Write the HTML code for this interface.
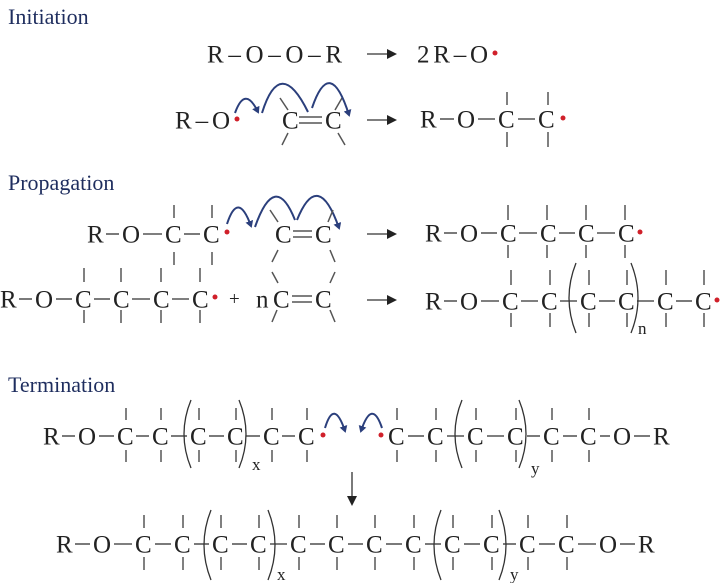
<!DOCTYPE html>
<html><head><meta charset="utf-8"><style>
html,body{margin:0;padding:0;background:#fff;}
svg{display:block;}
.t{font-family:"Liberation Serif",serif;font-size:25px;fill:#222;}
.h{font-family:"Liberation Serif",serif;font-size:22px;fill:#1e2d5e;}
.s{font-family:"Liberation Serif",serif;font-size:17px;fill:#222;}
.b{stroke:#333;stroke-width:1.3;fill:none;}
.k{stroke:#555;stroke-width:1.5;fill:none;}
.p{stroke:#333;stroke-width:1.3;fill:none;}
.a{stroke:#2b3f7c;stroke-width:2;fill:none;}
.d{fill:#d0202a;}
</style></head><body>
<svg width="720" height="583" viewBox="0 0 720 583" xmlns="http://www.w3.org/2000/svg">
<defs>
<marker id="ah" markerWidth="8" markerHeight="8" refX="5" refY="4" orient="auto" markerUnits="userSpaceOnUse"><path d="M0,0 L7,4 L0,8 Z" fill="#2b3f7c"/></marker>
</defs>
<!-- Titles -->
<text class="h" x="8" y="24">Initiation</text>
<text class="h" x="8" y="190">Propagation</text>
<text class="h" x="8" y="392">Termination</text>

<!-- Row1 -->
<text class="t" x="207" y="62.5" textLength="135" lengthAdjust="spacing">R–O–O–R</text>
<line class="b" x1="367" y1="54" x2="390" y2="54" stroke-width="2"/><path d="M397,54 L387,49 L387,59 Z" fill="#222"/>
<text class="t" x="417" y="62.5" textLength="71" lengthAdjust="spacing">2R–O</text>
<circle class="d" cx="495" cy="53" r="2.5"/>

<!-- Row2 -->
<text class="t" x="175" y="128.5" textLength="55" lengthAdjust="spacing">R–O</text>
<circle class="d" cx="237" cy="119" r="2.5"/>
<text class="t" x="282" y="128.5">C</text>
<line class="b" x1="299" y1="117" x2="322" y2="117"/><line class="b" x1="299" y1="123" x2="322" y2="123"/>
<text class="t" x="325" y="128.5">C</text>
<line class="k" x1="280" y1="98" x2="288" y2="110"/><line class="k" x1="342" y1="98" x2="335" y2="110"/>
<line class="k" x1="288" y1="133" x2="282" y2="145"/><line class="k" x1="338" y1="133" x2="345" y2="145"/>
<path class="a" d="M235,113 Q245,85 258,112" marker-end="url(#ah)"/>
<path class="a" d="M262,113 Q280,55 308,112"/>
<path class="a" d="M312,108 Q330,55 349,115" marker-end="url(#ah)"/>
<line class="b" x1="367" y1="120" x2="390" y2="120" stroke-width="2"/><path d="M397,120 L387,115 L387,125 Z" fill="#222"/>
<text class="t" x="420" y="127.5">R</text><line class="b" x1="440" y1="119" x2="454" y2="119"/>
<text class="t" x="457" y="127.5">O</text><line class="b" x1="478" y1="119" x2="495" y2="119"/>
<text class="t" x="498" y="127.5">C</text><line class="b" x1="518" y1="119" x2="535" y2="119"/>
<text class="t" x="538" y="127.5">C</text>
<circle class="d" cx="563" cy="118" r="2.5"/>
<line class="k" x1="507" y1="92" x2="507" y2="105"/><line class="k" x1="507" y1="132" x2="507" y2="147"/>
<line class="k" x1="548" y1="92" x2="548" y2="105"/><line class="k" x1="548" y1="132" x2="548" y2="147"/>

<!-- Row3 -->
<text class="t" x="87" y="242.5">R</text><line class="b" x1="106" y1="234" x2="119" y2="234"/>
<text class="t" x="122" y="242.5">O</text><line class="b" x1="143" y1="234" x2="162" y2="234"/>
<text class="t" x="165" y="242.5">C</text><line class="b" x1="184" y1="234" x2="200" y2="234"/>
<text class="t" x="203" y="242.5">C</text>
<line class="k" x1="174" y1="205" x2="174" y2="218"/><line class="k" x1="174" y1="252" x2="174" y2="265"/>
<line class="k" x1="212" y1="205" x2="212" y2="218"/><line class="k" x1="212" y1="252" x2="212" y2="265"/>
<circle class="d" cx="227" cy="232" r="2.5"/>
<path class="a" d="M227,224 Q238,190 251,226" marker-end="url(#ah)"/>
<path class="a" d="M255,227 Q275,170 295,220"/>
<path class="a" d="M297,220 Q318,168 339,228" marker-end="url(#ah)"/>
<text class="t" x="275" y="242.5">C</text>
<line class="b" x1="293" y1="231" x2="312" y2="231"/><line class="b" x1="293" y1="237" x2="312" y2="237"/>
<text class="t" x="315" y="242.5">C</text>
<line class="k" x1="270" y1="210" x2="278" y2="222"/><line class="k" x1="333" y1="210" x2="328" y2="222"/>
<line class="k" x1="278" y1="250" x2="272" y2="262"/><line class="k" x1="330" y1="250" x2="335" y2="262"/>
<line class="b" x1="367" y1="234" x2="390" y2="234" stroke-width="2"/><path d="M397,234 L387,229 L387,239 Z" fill="#222"/>
<text class="t" x="425" y="241.5">R</text><line class="b" x1="444" y1="233" x2="457" y2="233"/>
<text class="t" x="460" y="241.5">O</text><line class="b" x1="481" y1="233" x2="497" y2="233"/>
<text class="t" x="500" y="241.5">C</text><line class="b" x1="519" y1="233" x2="537" y2="233"/>
<text class="t" x="540" y="241.5">C</text><line class="b" x1="559" y1="233" x2="575" y2="233"/>
<text class="t" x="578" y="241.5">C</text><line class="b" x1="597" y1="233" x2="615" y2="233"/>
<text class="t" x="618" y="241.5">C</text>
<circle class="d" cx="640" cy="232" r="2.5"/>
<g class="k">
<line x1="508" y1="205" x2="508" y2="220"/><line x1="508" y1="245" x2="508" y2="258"/>
<line x1="547" y1="205" x2="547" y2="220"/><line x1="547" y1="245" x2="547" y2="258"/>
<line x1="586" y1="205" x2="586" y2="220"/><line x1="586" y1="245" x2="586" y2="258"/>
<line x1="625" y1="205" x2="625" y2="220"/><line x1="625" y1="245" x2="625" y2="258"/>
</g>

<!-- Row4 -->
<text class="t" x="0" y="307.5">R</text><line class="b" x1="19" y1="299" x2="32" y2="299"/>
<text class="t" x="35" y="307.5">O</text><line class="b" x1="56" y1="299" x2="72" y2="299"/>
<text class="t" x="75" y="307.5">C</text><line class="b" x1="94" y1="299" x2="110" y2="299"/>
<text class="t" x="113" y="307.5">C</text><line class="b" x1="132" y1="299" x2="150" y2="299"/>
<text class="t" x="153" y="307.5">C</text><line class="b" x1="172" y1="299" x2="189" y2="299"/>
<text class="t" x="192" y="307.5">C</text>
<circle class="d" cx="215" cy="297" r="2.5"/>
<g class="k">
<line x1="84" y1="268" x2="84" y2="282"/><line x1="84" y1="310" x2="84" y2="323"/>
<line x1="121" y1="268" x2="121" y2="282"/><line x1="121" y1="310" x2="121" y2="323"/>
<line x1="161" y1="268" x2="161" y2="282"/><line x1="161" y1="310" x2="161" y2="323"/>
<line x1="200" y1="268" x2="200" y2="282"/><line x1="200" y1="310" x2="200" y2="323"/>
</g>
<text class="t" x="229" y="305" style="font-size:19px">+</text>
<text class="t" x="256" y="307.5">n</text>
<text class="t" x="273" y="307.5">C</text>
<line class="b" x1="292" y1="296" x2="312" y2="296"/><line class="b" x1="292" y1="302" x2="312" y2="302"/>
<text class="t" x="315" y="307.5">C</text>
<line class="k" x1="272" y1="272" x2="278" y2="283"/><line class="k" x1="335" y1="272" x2="330" y2="283"/>
<line class="k" x1="277" y1="310" x2="272" y2="322"/><line class="k" x1="330" y1="310" x2="335" y2="322"/>
<line class="b" x1="367" y1="300" x2="390" y2="300" stroke-width="2"/><path d="M397,300 L387,295 L387,305 Z" fill="#222"/>
<text class="t" x="425" y="309.5">R</text><line class="b" x1="444" y1="301" x2="457" y2="301"/>
<text class="t" x="460" y="309.5">O</text><line class="b" x1="481" y1="301" x2="499" y2="301"/>
<text class="t" x="502" y="309.5">C</text><line class="b" x1="521" y1="301" x2="538" y2="301"/>
<text class="t" x="541" y="309.5">C</text><line class="b" x1="560" y1="301" x2="577" y2="301"/>
<text class="t" x="580" y="309.5">C</text><line class="b" x1="599" y1="301" x2="615" y2="301"/>
<text class="t" x="618" y="309.5">C</text><line class="b" x1="637" y1="301" x2="654" y2="301"/>
<text class="t" x="657" y="309.5">C</text><line class="b" x1="676" y1="301" x2="692" y2="301"/>
<text class="t" x="695" y="309.5">C</text>
<circle class="d" cx="717" cy="300" r="2.5"/>
<path class="p" d="M576,263 Q562,298 576,333"/><path class="p" d="M631,263 Q645,298 631,333"/>
<text class="s" x="638" y="334">n</text>
<g class="k">
<line x1="511" y1="270" x2="511" y2="285"/><line x1="511" y1="313" x2="511" y2="327"/>
<line x1="550" y1="270" x2="550" y2="285"/><line x1="550" y1="313" x2="550" y2="327"/>
<line x1="589" y1="270" x2="589" y2="285"/><line x1="589" y1="313" x2="589" y2="327"/>
<line x1="627" y1="270" x2="627" y2="285"/><line x1="627" y1="313" x2="627" y2="327"/>
<line x1="666" y1="270" x2="666" y2="285"/><line x1="666" y1="313" x2="666" y2="327"/>
<line x1="704" y1="270" x2="704" y2="285"/><line x1="704" y1="313" x2="704" y2="327"/>
</g>

<!-- Row5 -->
<text class="t" x="43" y="444.5">R</text><line class="b" x1="62" y1="436" x2="75" y2="436"/>
<text class="t" x="78" y="444.5">O</text><line class="b" x1="99" y1="436" x2="114" y2="436"/>
<text class="t" x="117" y="444.5">C</text><line class="b" x1="136" y1="436" x2="149" y2="436"/>
<text class="t" x="152" y="444.5">C</text><line class="b" x1="171" y1="436" x2="187" y2="436"/>
<text class="t" x="190" y="444.5">C</text><line class="b" x1="209" y1="436" x2="224" y2="436"/>
<text class="t" x="227" y="444.5">C</text><line class="b" x1="246" y1="436" x2="260" y2="436"/>
<text class="t" x="263" y="444.5">C</text><line class="b" x1="282" y1="436" x2="295" y2="436"/>
<text class="t" x="298" y="444.5">C</text>
<path class="p" d="M191,400 Q177,434 191,468"/><path class="p" d="M239,400 Q253,434 239,468"/>
<text class="s" x="252" y="470">x</text>
<circle class="d" cx="323" cy="435" r="2.5"/>
<path class="a" d="M325,428 Q334,398 345,431" marker-end="url(#ah)"/>
<path class="a" d="M382,428 Q372,398 361,431" marker-end="url(#ah)"/>
<circle class="d" cx="381" cy="435" r="2.5"/>
<text class="t" x="388" y="444.5">C</text><line class="b" x1="408" y1="436" x2="424" y2="436"/>
<text class="t" x="427" y="444.5">C</text><line class="b" x1="447" y1="436" x2="464" y2="436"/>
<text class="t" x="467" y="444.5">C</text><line class="b" x1="487" y1="436" x2="504" y2="436"/>
<text class="t" x="507" y="444.5">C</text><line class="b" x1="527" y1="436" x2="540" y2="436"/>
<text class="t" x="543" y="444.5">C</text><line class="b" x1="563" y1="436" x2="577" y2="436"/>
<text class="t" x="580" y="444.5">C</text><line class="b" x1="600" y1="436" x2="610" y2="436"/>
<text class="t" x="613" y="444.5">O</text><line class="b" x1="634" y1="436" x2="650" y2="436"/>
<text class="t" x="653" y="444.5">R</text>
<path class="p" d="M462,400 Q448,434 462,468"/><path class="p" d="M519,400 Q533,434 519,468"/>
<text class="s" x="531" y="474">y</text>
<g class="k">
<line x1="126" y1="408" x2="126" y2="420"/><line x1="126" y1="450" x2="126" y2="462"/>
<line x1="161" y1="408" x2="161" y2="420"/><line x1="161" y1="450" x2="161" y2="462"/>
<line x1="199" y1="408" x2="199" y2="420"/><line x1="199" y1="450" x2="199" y2="462"/>
<line x1="236" y1="408" x2="236" y2="420"/><line x1="236" y1="450" x2="236" y2="462"/>
<line x1="272" y1="408" x2="272" y2="420"/><line x1="272" y1="450" x2="272" y2="462"/>
<line x1="307" y1="408" x2="307" y2="420"/><line x1="307" y1="450" x2="307" y2="462"/>
<line x1="397" y1="408" x2="397" y2="420"/><line x1="397" y1="450" x2="397" y2="462"/>
<line x1="436" y1="408" x2="436" y2="420"/><line x1="436" y1="450" x2="436" y2="462"/>
<line x1="476" y1="408" x2="476" y2="420"/><line x1="476" y1="450" x2="476" y2="462"/>
<line x1="516" y1="408" x2="516" y2="420"/><line x1="516" y1="450" x2="516" y2="462"/>
<line x1="552" y1="408" x2="552" y2="420"/><line x1="552" y1="450" x2="552" y2="462"/>
<line x1="589" y1="408" x2="589" y2="420"/><line x1="589" y1="450" x2="589" y2="462"/>
</g>

<!-- Down arrow -->
<line class="b" x1="352" y1="472" x2="352" y2="498" stroke-width="2"/><path d="M352,506 L347,496 L357,496 Z" fill="#222"/>

<!-- Row6 -->
<text class="t" x="56" y="552.5">R</text><line class="b" x1="75" y1="544" x2="90" y2="544"/>
<text class="t" x="93" y="552.5">O</text><line class="b" x1="114" y1="544" x2="132" y2="544"/>
<text class="t" x="135" y="552.5">C</text><line class="b" x1="155" y1="544" x2="171" y2="544"/>
<text class="t" x="174" y="552.5">C</text><line class="b" x1="194" y1="544" x2="209" y2="544"/>
<text class="t" x="212" y="552.5">C</text><line class="b" x1="232" y1="544" x2="247" y2="544"/>
<text class="t" x="250" y="552.5">C</text><line class="b" x1="270" y1="544" x2="287" y2="544"/>
<text class="t" x="290" y="552.5">C</text><line class="b" x1="310" y1="544" x2="325" y2="544"/>
<text class="t" x="328" y="552.5">C</text><line class="b" x1="348" y1="544" x2="363" y2="544"/>
<text class="t" x="366" y="552.5">C</text><line class="b" x1="386" y1="544" x2="402" y2="544"/>
<text class="t" x="405" y="552.5">C</text><line class="b" x1="425" y1="544" x2="441" y2="544"/>
<text class="t" x="444" y="552.5">C</text><line class="b" x1="464" y1="544" x2="480" y2="544"/>
<text class="t" x="483" y="552.5">C</text><line class="b" x1="503" y1="544" x2="516" y2="544"/>
<text class="t" x="519" y="552.5">C</text><line class="b" x1="539" y1="544" x2="555" y2="544"/>
<text class="t" x="558" y="552.5">C</text><line class="b" x1="578" y1="544" x2="596" y2="544"/>
<text class="t" x="599" y="552.5">O</text><line class="b" x1="620" y1="544" x2="635" y2="544"/>
<text class="t" x="638" y="552.5">R</text>
<path class="p" d="M211,510 Q197,545 211,580"/><path class="p" d="M268,510 Q282,545 268,580"/>
<text class="s" x="277" y="580">x</text>
<path class="p" d="M441,510 Q427,545 441,580"/><path class="p" d="M499,510 Q513,545 499,580"/>
<text class="s" x="510" y="580">y</text>
<g class="k">
<line x1="144" y1="515" x2="144" y2="528"/><line x1="144" y1="557" x2="144" y2="570"/>
<line x1="183" y1="515" x2="183" y2="528"/><line x1="183" y1="557" x2="183" y2="570"/>
<line x1="221" y1="515" x2="221" y2="528"/><line x1="221" y1="557" x2="221" y2="570"/>
<line x1="259" y1="515" x2="259" y2="528"/><line x1="259" y1="557" x2="259" y2="570"/>
<line x1="299" y1="515" x2="299" y2="528"/><line x1="299" y1="557" x2="299" y2="570"/>
<line x1="337" y1="515" x2="337" y2="528"/><line x1="337" y1="557" x2="337" y2="570"/>
<line x1="375" y1="515" x2="375" y2="528"/><line x1="375" y1="557" x2="375" y2="570"/>
<line x1="414" y1="515" x2="414" y2="528"/><line x1="414" y1="557" x2="414" y2="570"/>
<line x1="453" y1="515" x2="453" y2="528"/><line x1="453" y1="557" x2="453" y2="570"/>
<line x1="492" y1="515" x2="492" y2="528"/><line x1="492" y1="557" x2="492" y2="570"/>
<line x1="528" y1="515" x2="528" y2="528"/><line x1="528" y1="557" x2="528" y2="570"/>
<line x1="567" y1="515" x2="567" y2="528"/><line x1="567" y1="557" x2="567" y2="570"/>
</g>
</svg>
</body></html>
